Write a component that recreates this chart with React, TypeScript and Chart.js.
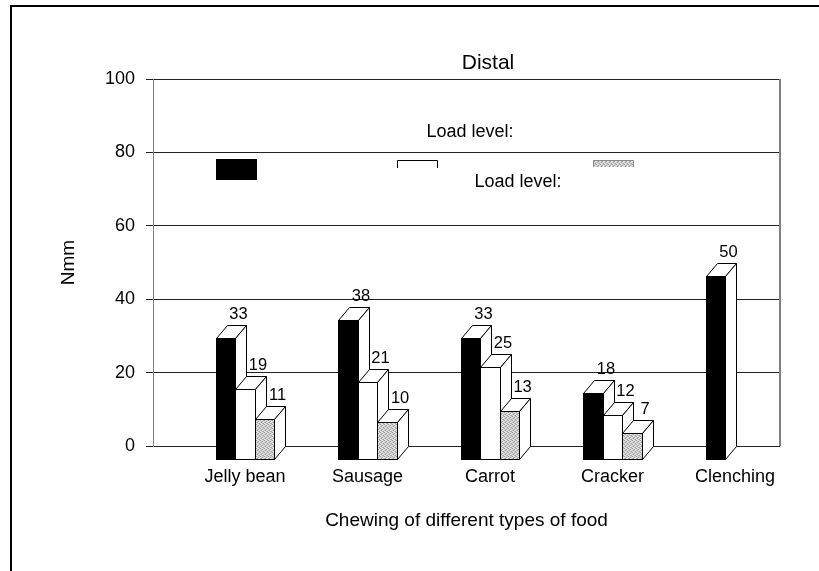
import { useEffect, useRef } from "react";
import { Chart, registerables } from "chart.js";

Chart.register(...registerables);

// Food types along the category axis
const foods = ["Jelly bean", "Sausage", "Carrot", "Cracker", "Clenching"];
// Moment (Nmm) per load level; Clenching only has the first level
const loadHigh = [33, 38, 33, 18, 50];
const loadMid = [19, 21, 25, 12, null];
const loadLow = [11, 10, 13, 7, null];
const yTickStep = 20;

const FONT = "'Liberation Sans', Arial, sans-serif";
// pseudo-3D depth of each bar (back face sits up/right of the front face)
const DEPTH_X = 11;
const DEPTH_Y = 13;

function stipple(ctx: CanvasRenderingContext2D): CanvasPattern | string {
  const c = document.createElement("canvas");
  c.width = 4;
  c.height = 4;
  const p = c.getContext("2d");
  if (!p) return "#c8c8c8";
  p.fillStyle = "#e2e2e2";
  p.fillRect(0, 0, 4, 4);
  p.fillStyle = "#9a9a9a";
  [[0, 0], [2, 1], [1, 2], [3, 3]].forEach(([x, y]) => p.fillRect(x, y, 1, 1));
  p.fillStyle = "#bdbdbd";
  [[2, 3], [0, 2], [3, 0], [1, 1]].forEach(([x, y]) => p.fillRect(x, y, 1, 1));
  return ctx.createPattern(c, "repeat") || "#c8c8c8";
}

function drawBox(
  ctx: CanvasRenderingContext2D,
  left: number,
  right: number,
  backTop: number,
  backBase: number,
  fill: string | CanvasPattern
) {
  const x0 = Math.round(left) + 0.5;
  const x1 = Math.round(right) + 0.5;
  const bt = Math.round(backTop) + 0.5;
  const bb = Math.round(backBase) + 0.5;
  const ft = bt + DEPTH_Y;
  const fb = bb + DEPTH_Y;
  ctx.save();
  ctx.lineWidth = 1;
  ctx.strokeStyle = "#000";
  ctx.lineJoin = "miter";
  // top face
  ctx.beginPath();
  ctx.moveTo(x0, ft);
  ctx.lineTo(x0 + DEPTH_X, bt);
  ctx.lineTo(x1 + DEPTH_X, bt);
  ctx.lineTo(x1, ft);
  ctx.closePath();
  ctx.fillStyle = "#fff";
  ctx.fill();
  ctx.stroke();
  // side face
  ctx.beginPath();
  ctx.moveTo(x1, ft);
  ctx.lineTo(x1 + DEPTH_X, bt);
  ctx.lineTo(x1 + DEPTH_X, bb);
  ctx.lineTo(x1, fb);
  ctx.closePath();
  ctx.fill();
  ctx.stroke();
  // front face
  ctx.fillStyle = fill;
  ctx.fillRect(x0, ft, x1 - x0, fb - ft);
  ctx.strokeRect(x0, ft, x1 - x0, fb - ft);
  ctx.restore();
}

const bars3d = {
  id: "bars3d",
  beforeDatasetsDraw(chart: Chart) {
    const { ctx, chartArea } = chart;
    ctx.save();
    // right wall edge
    ctx.strokeStyle = "#808080";
    ctx.lineWidth = 2;
    ctx.beginPath();
    ctx.moveTo(chartArea.right, chartArea.top);
    ctx.lineTo(chartArea.right, chartArea.bottom);
    ctx.stroke();
    ctx.restore();
  },
  afterDatasetsDraw(chart: Chart) {
    const { ctx } = chart;
    const yScale = chart.scales.y;
    const fills: (string | CanvasPattern)[] = ["#000", "#fff", stipple(ctx)];
    for (let i = 0; i < foods.length; i++) {
      chart.data.datasets.forEach((ds, di) => {
        const meta = chart.getDatasetMeta(di);
        const el: any = meta.data[i];
        const raw: any = ds.data[i];
        const v = raw && typeof raw === "object" ? raw.y : raw;
        if (!el || v === null || v === undefined) return;
        const { x, width } = el.getProps(["x", "width"], true);
        const top = yScale.getPixelForValue(v);
        const base = yScale.getPixelForValue(0);
        drawBox(ctx, x - width / 2, x + width / 2, top, base, fills[di]);
        ctx.save();
        ctx.fillStyle = "#000";
        ctx.font = `16.5px ${FONT}`;
        ctx.textAlign = "center";
        ctx.textBaseline = "alphabetic";
        ctx.fillText(String(v), x + 13, top - 6);
        ctx.restore();
      });
    }
  },
  afterDraw(chart: Chart) {
    const { ctx } = chart;
    ctx.save();
    // frame
    ctx.strokeStyle = "#000";
    ctx.lineWidth = 2;
    ctx.beginPath();
    ctx.moveTo(11, 600);
    ctx.lineTo(11, 6);
    ctx.lineTo(830, 6);
    ctx.stroke();

    // chart title
    ctx.fillStyle = "#000";
    ctx.font = `21px ${FONT}`;
    ctx.textAlign = "center";
    ctx.textBaseline = "alphabetic";
    ctx.fillText("Distal", 488, 69);

    // legend
    ctx.font = `18px ${FONT}`;
    ctx.fillText("Load level:", 470, 137);
    ctx.fillText("Load level:", 518, 187);
    ctx.fillStyle = "#000";
    ctx.fillRect(216, 159, 41, 21);
    ctx.lineWidth = 1;
    ctx.strokeStyle = "#000";
    ctx.beginPath();
    ctx.moveTo(397.5, 168);
    ctx.lineTo(397.5, 160.5);
    ctx.lineTo(437.5, 160.5);
    ctx.lineTo(437.5, 168);
    ctx.stroke();
    ctx.fillStyle = stipple(ctx);
    ctx.fillRect(593, 160, 41, 7);
    ctx.strokeStyle = "#8a8a8a";
    ctx.beginPath();
    ctx.moveTo(593.5, 167);
    ctx.lineTo(593.5, 160.5);
    ctx.lineTo(633.5, 160.5);
    ctx.lineTo(633.5, 167);
    ctx.stroke();
    ctx.restore();
  },
};

export default function App() {
  const ref = useRef<HTMLCanvasElement | null>(null);

  useEffect(() => {
    if (!ref.current) return;
    const toPoints = (arr: (number | null)[]) => arr.map((y, x) => ({ x, y }));
    const chart = new Chart(ref.current, {
      type: "bar",
      data: {
        datasets: [
          { label: "", data: toPoints(loadHigh) as any, backgroundColor: "rgba(0,0,0,0)", borderWidth: 0 },
          { label: "", data: toPoints(loadMid) as any, backgroundColor: "rgba(0,0,0,0)", borderWidth: 0 },
          { label: "", data: toPoints(loadLow) as any, backgroundColor: "rgba(0,0,0,0)", borderWidth: 0 },
        ],
      },
      options: {
        responsive: false,
        animation: false,
        events: [],
        layout: { padding: { top: 79, right: 39, left: 0, bottom: 0 } },
        datasets: { bar: { categoryPercentage: 0.48, barPercentage: 1 } },
        plugins: {
          legend: { display: false },
          tooltip: { enabled: false },
          title: { display: false },
        },
        scales: {
          x: {
            type: "linear",
            offset: false,
            min: -0.751,
            max: 4.367,
            afterFit: (s: any) => {
              s.height = 125;
            },
            grid: { display: false, drawTicks: false, offset: false },
            border: { display: false },
            ticks: {
              stepSize: 1,
              includeBounds: false,
              autoSkip: false,
              maxRotation: 0,
              padding: 20,
              color: "#000",
              font: { family: FONT, size: 18 },
              callback: (v: any) => foods[v as number] ?? "",
            },
            title: {
              display: true,
              text: "Chewing of different types of food",
              color: "#000",
              font: { family: FONT, size: 19 },
              padding: { top: 0, bottom: 39 },
            },
          },
          y: {
            min: 0,
            max: 100,
            afterFit: (s: any) => {
              s.width = 153;
            },
            grid: { color: "#222", tickLength: 7, drawTicks: true, lineWidth: 1 },
            border: { color: "#808080", width: 1 },
            ticks: {
              stepSize: yTickStep,
              padding: 11,
              color: "#000",
              font: { family: FONT, size: 18 },
            },
            title: {
              display: true,
              text: "Nmm",
              color: "#000",
              font: { family: FONT, size: 19 },
              padding: { top: 57, bottom: 0 },
            },
          },
        },
      },
      plugins: [bars3d],
    });
    return () => chart.destroy();
  }, []);

  return (
    <div style={{ position: "absolute", left: 0, top: 0, width: 819, height: 571, background: "#fff" }}>
      <canvas ref={ref} width={819} height={571} style={{ display: "block" }} />
    </div>
  );
}
